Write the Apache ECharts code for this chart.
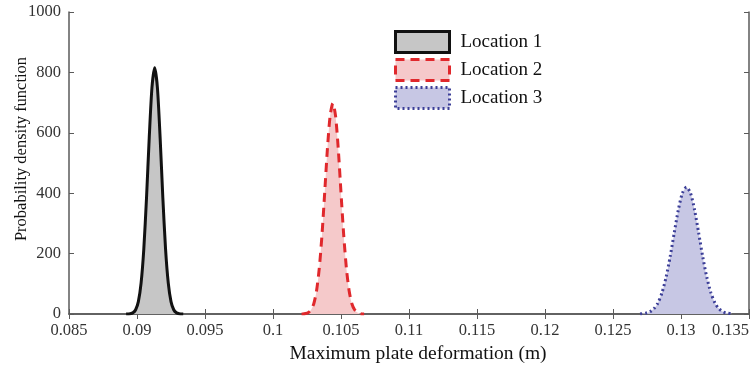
<!DOCTYPE html>
<html><head><meta charset="utf-8">
<script src="https://cdn.jsdelivr.net/npm/echarts@6/dist/echarts.min.js"></script>
<style>html,body{margin:0;padding:0;background:#fff}#c{width:755px;height:368px}</style>
</head><body><div id="c"></div>
<script>
// Location 1 (x in m, pdf)
const loc1X = [0.0892,0.0895,0.0897,0.0899,0.0901,0.0903,0.0905,0.0907,0.0909,0.0911,0.0913,0.0915,0.0917,0.0919,0.0921,0.0923,0.0925,0.0927,0.0929,0.0931,0.0934];
const loc1Y = [0,1,4,14,41,102,215,385,584,750,815,750,584,385,215,102,41,14,4,1,0];
// Location 2
const loc2X = [0.1021,0.1022,0.1024,0.1026,0.1028,0.1030,0.1032,0.1034,0.1036,0.1038,0.1040,0.1042,0.1044,0.1046,0.1048,0.1050,0.1052,0.1054,0.1056,0.1058,0.1060,0.1062,0.1064,0.1066,0.1067];
const loc2Y = [0,0,1.5,5,14,34,76,150,261,401,546,656,698,656,546,401,261,150,76,34,14,5,1.5,0,0];
// Location 3
const loc3X = [0.1270,0.1271,0.1274,0.1277,0.1280,0.1283,0.1286,0.1289,0.1292,0.1295,0.1298,0.1301,0.1304,0.1307,0.1310,0.1313,0.1316,0.1319,0.1322,0.1325,0.1328,0.1331,0.1334,0.1337,0.1338];
const loc3Y = [0,1,3,7,17,36,70,121,189,268,344,400,420,400,344,268,189,121,70,36,17,7,3,1,0];
const seriesNames = ['Location 1','Location 2','Location 3'];
const yTicks = [0,200,400,600,800,1000];

const zip = (xs, ys) => xs.map((x, i) => [x, ys[i]]);
const serif = 'Liberation Serif';
const axisCol = '#5a5a5a';
const fmtX = v => String(parseFloat(v.toFixed(4)));

const chart = echarts.init(document.getElementById('c'), null, {renderer: 'canvas'});
const colors = {
  line: ['#111111', '#e0282c', '#3c3f98'],
  fill: ['#c6c6c6', '#f5c9ca', '#c7c7e4'],
  type: ['solid', [9, 6], [2, 3]]
};
const data = [zip(loc1X, loc1Y), zip(loc2X, loc2Y), zip(loc3X, loc3Y)];

chart.setOption({
  animation: false,
  grid: {left: 69, right: 6, top: 12, bottom: 54, containLabel: false, outerBoundsMode: 'none'},
  legend: {
    orient: 'vertical', left: 389, top: 25, itemGap: 4,
    itemWidth: 54, itemHeight: 21, icon: 'rect',
    textStyle: {fontFamily: serif, fontSize: 19, color: '#111', padding: [0, 0, 0, 6]},
    data: seriesNames.map((n, i) => ({
      name: n,
      itemStyle: {color: colors.fill[i], borderColor: colors.line[i], borderWidth: 3, borderType: colors.type[i]}
    }))
  },
  xAxis: [{
    type: 'value', min: 0.085, max: 0.135, interval: 0.005,
    name: 'Maximum plate deformation (m)', nameLocation: 'middle', nameGap: 30, nameMoveOverlap: false,
    nameTextStyle: {fontFamily: serif, fontSize: 19.5, color: '#111', padding: [0, 0, 0, 18]},
    axisLine: {lineStyle: {color: axisCol, width: 1.5}},
    axisTick: {inside: true, length: 5, lineStyle: {color: axisCol}},
    axisLabel: {formatter: fmtX, fontFamily: serif, fontSize: 16.5, color: '#333', margin: 8, alignMaxLabel: 'right'},
    splitLine: {show: false}
  }, {
    type: 'value', position: 'top', min: 0.085, max: 0.135, interval: 0.005,
    axisLine: {show: true, lineStyle: {color: axisCol, width: 1.5}},
    axisTick: {show: true, inside: true, length: 5, lineStyle: {color: axisCol}},
    axisLabel: {show: false}, splitLine: {show: false}
  }],
  yAxis: [{
    type: 'value', min: 0, max: 1000, interval: 200,
    name: 'Probability density function', nameLocation: 'middle', nameGap: 39, nameMoveOverlap: false,
    nameTextStyle: {fontFamily: serif, fontSize: 16.5, color: '#111', padding: [0, 0, 0, 28]},
    axisLine: {show: true, lineStyle: {color: axisCol, width: 1.5}},
    axisTick: {show: true, inside: true, length: 5, lineStyle: {color: axisCol}},
    axisLabel: {fontFamily: serif, fontSize: 16.5, color: '#333', margin: 8,
      formatter: v => yTicks.includes(v) ? String(v) : ''},
    splitLine: {show: false}
  }, {
    type: 'value', position: 'right', min: 0, max: 1000, interval: 200,
    axisLine: {show: true, lineStyle: {color: axisCol, width: 1.5}},
    axisTick: {show: true, inside: true, length: 5, lineStyle: {color: axisCol}},
    axisLabel: {show: false}, splitLine: {show: false}
  }],
  series: seriesNames.map((n, i) => ({
    name: n, type: 'line', data: data[i], symbol: 'none', smooth: 0.25,
    xAxisIndex: 0, yAxisIndex: 0,
    lineStyle: {color: colors.line[i], width: 3, type: colors.type[i]},
    itemStyle: {color: colors.fill[i], borderColor: colors.line[i]},
    areaStyle: {color: colors.fill[i], opacity: 1},
    z: 2
  }))
});
</script>
</body></html>
